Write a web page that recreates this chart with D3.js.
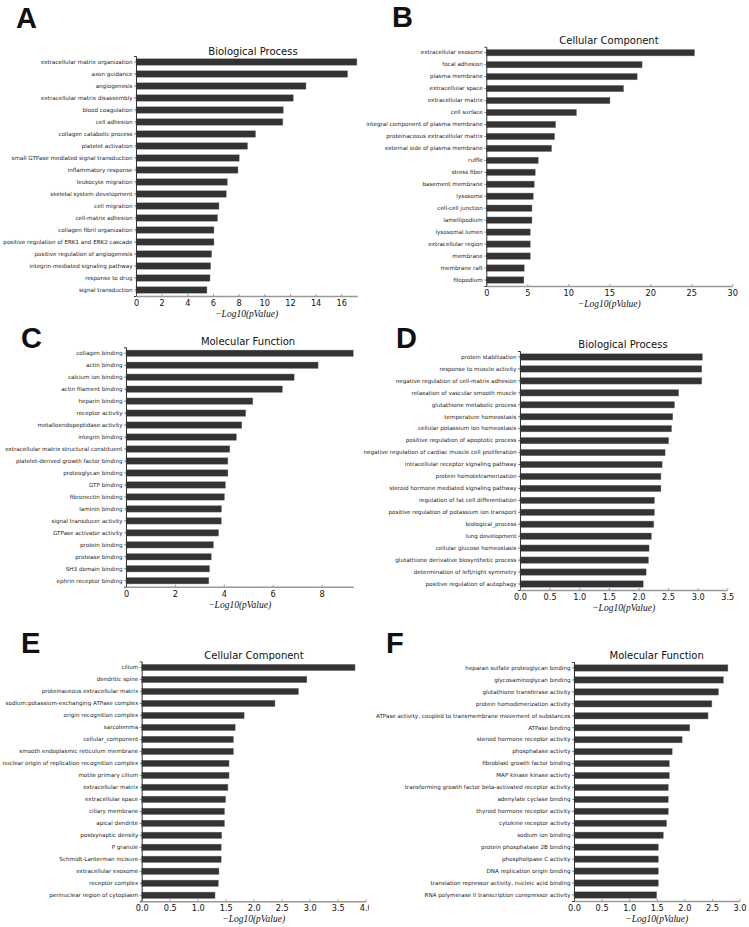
<!DOCTYPE html>
<html>
<head>
<meta charset="utf-8">
<script src="https://cdn.jsdelivr.net/npm/d3@7"></script>
<style>
  html, body { margin: 0; padding: 0; background: #fff; }
  svg { display: block; }
</style>
</head>
<body>
<svg id="chart" width="749" height="927"></svg>
<script>
// ---------------- DATA ----------------
const aTerms = ["extracellular matrix organization","axon guidance","angiogenesis","extracellular matrix disassembly","blood coagulation","cell adhesion","collagen catabolic process","platelet activation","small GTPase mediated signal transduction","inflammatory response","leukocyte migration","skeletal system development","cell migration","cell-matrix adhesion","collagen fibril organization","positive regulation of ERK1 and ERK2 cascade","positive regulation of angiogenesis","integrin-mediated signaling pathway","response to drug","signal transduction"];
const aValues = [17.22,16.5,13.25,12.26,11.48,11.45,9.32,8.70,8.05,7.95,7.12,7.04,6.47,6.36,6.08,6.08,5.90,5.82,5.77,5.53];
const aTicks = [0,2,4,6,8,10,12,14,16];

const bTerms = ["extracellular exosome","focal adhesion","plasma membrane","extracellular space","extracellular matrix","cell surface","integral component of plasma membrane","proteinaceous extracellular matrix","external side of plasma membrane","ruffle","stress fiber","basement membrane","lysosome","cell-cell junction","lamellipodium","lysosomal lumen","extracellular region","membrane","membrane raft","filopodium"];
const bValues = [25.4,19.0,18.4,16.75,15.08,11.0,8.46,8.33,7.97,6.34,5.98,5.85,5.73,5.57,5.57,5.37,5.37,5.37,4.63,4.59];
const bTicks = [0,5,10,15,20,25,30];

const cTerms = ["collagen binding","actin binding","calcium ion binding","actin filament binding","heparin binding","receptor activity","metalloendopeptidase activity","integrin binding","extracellular matrix structural constituent","platelet-derived growth factor binding","proteoglycan binding","GTP binding","fibronectin binding","laminin binding","signal transducer activity","GTPase activator activity","protein binding","protease binding","SH3 domain binding","ephrin receptor binding"];
const cValues = [9.30,7.86,6.88,6.40,5.19,4.90,4.74,4.52,4.25,4.17,4.17,4.07,4.03,3.91,3.90,3.79,3.58,3.49,3.42,3.39];
const cTicks = [0,2,4,6,8];

const dTerms = ["protein stabilization","response to muscle activity","negative regulation of cell-matrix adhesion","relaxation of vascular smooth muscle","glutathione metabolic process","temperature homeostasis","cellular potassium ion homeostasis","positive regulation of apoptotic process","negative regulation of cardiac muscle cell proliferation","intracellular receptor signaling pathway","protein homotetramerization","steroid hormone mediated signaling pathway","regulation of fat cell differentiation","positive regulation of potassium ion transport","biological_process","lung development","cellular glucose homeostasis","glutathione derivative biosynthetic process","determination of left/right symmetry","positive regulation of autophagy"];
const dValues = [3.08,3.07,3.07,2.68,2.61,2.58,2.56,2.51,2.45,2.40,2.38,2.38,2.27,2.27,2.26,2.22,2.18,2.17,2.13,2.08];
const dTicks = [0,0.5,1,1.5,2,2.5,3,3.5];

const eTerms = ["cilium","dendritic spine","proteinaceous extracellular matrix","sodium:potassium-exchanging ATPase complex","origin recognition complex","sarcolemma","cellular_component","smooth endoplasmic reticulum membrane","nuclear origin of replication recognition complex","motile primary cilium","extracellular matrix","extracellular space","ciliary membrane","apical dendrite","postsynaptic density","P granule","Schmidt-Lanterman incisure","extracellular exosome","receptor complex","perinuclear region of cytoplasm"];
const eValues = [3.81,2.95,2.80,2.38,1.83,1.67,1.64,1.64,1.56,1.56,1.54,1.50,1.48,1.48,1.43,1.42,1.42,1.38,1.37,1.31];
const eTicks = [0,0.5,1,1.5,2,2.5,3,3.5,4];

const fTerms = ["heparan sulfate proteoglycan binding","glycosaminoglycan binding","glutathione transferase activity","protein homodimerization activity","ATPase activity, coupled to transmembrane movement of substances","ATPase binding","steroid hormone receptor activity","phosphatase activity","fibroblast growth factor binding","MAP kinase kinase activity","transforming growth factor beta-activated receptor activity","adenylate cyclase binding","thyroid hormone receptor activity","cytokine receptor activity","sodium ion binding","protein phosphatase 2B binding","phospholipase C activity","DNA replication origin binding","translation repressor activity, nucleic acid binding","RNA polymerase II transcription corepressor activity"];
const fValues = [2.79,2.71,2.62,2.50,2.43,2.10,1.96,1.78,1.73,1.73,1.71,1.71,1.71,1.68,1.62,1.53,1.53,1.53,1.53,1.50];
const fTicks = [0,0.5,1,1.5,2,2.5,3];

// ---------------- LAYOUT ----------------
const panels = [
  {letter:"A", title:"Biological Process", terms:aTerms, values:aValues, ticks:aTicks, fmt:d3.format("d"),
   x0:136, x1:357.3, max:17.25, yTop:56, yBot:296, tx:253, ty:51, lx:16, ly:28},
  {letter:"B", title:"Cellular Component", terms:bTerms, values:bValues, ticks:bTicks, fmt:d3.format("d"),
   x0:486.3, x1:732.3, max:30, yTop:46.7, yBot:286, tx:609, ty:40, lx:392, ly:27},
  {letter:"C", title:"Molecular Function", terms:cTerms, values:cValues, ticks:cTicks, fmt:d3.format("d"),
   x0:126, x1:353.3, max:9.3, yTop:347.3, yBot:586.7, tx:248, ty:341, lx:21, ly:348},
  {letter:"D", title:"Biological Process", terms:dTerms, values:dValues, ticks:dTicks, fmt:d3.format(".1f"),
   x0:520, x1:727.3, max:3.5, yTop:351, yBot:590, tx:623, ty:344, lx:396, ly:348},
  {letter:"E", title:"Cellular Component", terms:eTerms, values:eValues, ticks:eTicks, fmt:d3.format(".1f"),
   x0:141.7, x1:365.7, max:4.0, yTop:661.5, yBot:901.3, tx:254, ty:655, lx:21, ly:653, clipRight:369},
  {letter:"F", title:"Molecular Function", terms:fTerms, values:fValues, ticks:fTicks, fmt:d3.format(".1f"),
   x0:574, x1:739.5, max:3.0, yTop:662, yBot:901, tx:656.7, ty:655, lx:386, ly:653}
];

const svg = d3.select("#chart");
const defs = svg.append("defs");

panels.forEach((p, i) => {
  const g = svg.append("g").attr("class", "panel panel-" + p.letter);
  if (p.clipRight) {
    // in the local coordinates of the translated x-axis group
    defs.append("clipPath").attr("id", "clip" + i)
      .append("rect").attr("x", 0).attr("y", -10).attr("width", p.clipRight).attr("height", 30);
  }

  const x = d3.scaleLinear().domain([0, p.max]).range([p.x0, p.x1]);
  const y = d3.scaleBand().domain(p.terms).range([p.yTop, p.yBot])
    .paddingInner(0.46).paddingOuter(0.23);

  // panel letter
  g.append("text")
    .attr("x", p.lx).attr("y", p.ly)
    .attr("font-family", "'Liberation Sans', Arial, sans-serif")
    .attr("font-weight", "bold").attr("font-size", 29)
    .attr("fill", "#111")
    .text(p.letter);

  // title
  g.append("text")
    .attr("x", p.tx).attr("y", p.ty + 3.5)
    .attr("text-anchor", "middle")
    .attr("font-family", "'DejaVu Sans', sans-serif")
    .attr("font-size", 10).attr("fill", "#111")
    .text(p.title);

  // bars
  g.append("g").selectAll("rect")
    .data(p.terms.map((t, k) => ({term: t, value: p.values[k]})))
    .join("rect")
    .attr("x", x(0))
    .attr("y", d => y(d.term))
    .attr("width", d => x(d.value) - x(0))
    .attr("height", y.bandwidth())
    .attr("fill", "#333333")
    .attr("stroke", "#8a8a8a")
    .attr("stroke-width", 0.4);

  // y axis (category labels)
  const yAxis = d3.axisLeft(y).tickSize(2).tickPadding(1.5);
  const yg = g.append("g").attr("transform", `translate(${x(0)},0)`).call(yAxis);
  yg.select(".domain").attr("stroke", "#333").attr("stroke-width", 1);
  yg.selectAll(".tick line").attr("stroke", "#333").attr("stroke-width", 0.6);
  yg.selectAll(".tick text")
    .attr("font-family", "'DejaVu Sans', sans-serif")
    .attr("font-size", 5.6).attr("fill", "#222");

  // x axis
  const xAxisG = g.append("g").attr("transform", `translate(0,${p.yBot})`);
  if (p.clipRight) xAxisG.attr("clip-path", `url(#clip${i})`);
  const xAxis = d3.axisBottom(x).tickValues(p.ticks).tickFormat(p.fmt)
    .tickSizeInner(-2).tickSizeOuter(0).tickPadding(4);
  xAxisG.call(xAxis);
  xAxisG.select(".domain").attr("stroke", "#999").attr("stroke-width", 1.6);
  xAxisG.selectAll(".tick line").attr("stroke", "#666").attr("stroke-width", 0.6);
  xAxisG.selectAll(".tick text")
    .attr("font-family", "'DejaVu Sans', sans-serif")
    .attr("font-size", 8.2).attr("fill", "#111");

  // x axis title
  g.append("text")
    .attr("x", (p.x0 + p.x1) / 2).attr("y", p.yBot + 21)
    .attr("text-anchor", "middle")
    .attr("font-family", "'Liberation Serif', 'DejaVu Serif', serif")
    .attr("font-style", "italic")
    .attr("font-size", 9.5).attr("fill", "#111")
    .text("\u2212Log10(pValue)");
});
</script>
</body>
</html>
